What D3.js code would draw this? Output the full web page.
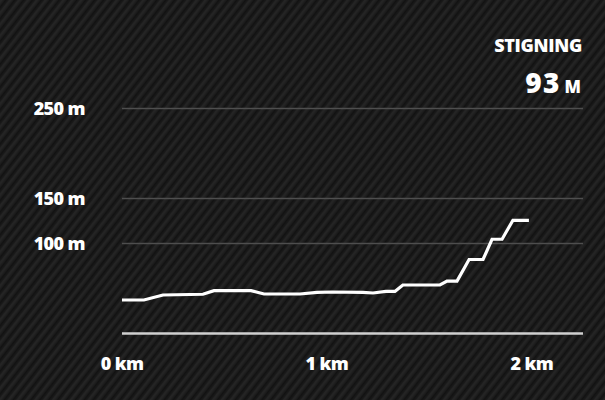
<!DOCTYPE html>
<html>
<head>
<meta charset="utf-8">
<script src="https://cdn.jsdelivr.net/npm/d3@7"></script>
<style>
  html, body { margin: 0; padding: 0; background: #1a1a1a; }
  svg { display: block; }
  text { font-family: "Open Sans", "DejaVu Sans", sans-serif; font-weight: 800; fill: #ffffff; }
</style>
</head>
<body>
<script>
// ---- data ----
const distanceKm = [0, 0.107, 0.200, 0.395, 0.449, 0.630, 0.693, 0.869, 0.952, 1.025, 1.176, 1.225, 1.288, 1.332, 1.371, 1.552, 1.586, 1.635, 1.694, 1.762, 1.806, 1.855, 1.908, 1.986];
const elevationM = [37.2, 37.2, 42.8, 43.6, 47.6, 47.6, 43.9, 43.9, 45.6, 46.1, 45.6, 45.0, 46.7, 46.7, 53.9, 53.9, 58.3, 58.3, 82.2, 82.2, 104.7, 104.7, 125.8, 125.8];
const yTicks = [100, 150, 250];
const yTickLabels = ["100 m", "150 m", "250 m"];
const xTicks = [0, 1, 2];
const xTickLabels = ["0 km", "1 km", "2 km"];
const titleText = "STIGNING";
const climbValue = "93";
const climbUnit = "M";

const W = 605, H = 400;
const svg = d3.select("body").append("svg").attr("width", W).attr("height", H);

// background texture
const defs = svg.append("defs");
const pat = defs.append("pattern")
  .attr("id", "stripes").attr("patternUnits", "userSpaceOnUse")
  .attr("width", 7).attr("height", 7)
  .attr("patternTransform", "rotate(38)");
pat.append("rect").attr("width", 7).attr("height", 7).attr("fill", "#1a1a1a");
pat.append("rect").attr("width", 2.5).attr("height", 7).attr("fill", "#242424");
pat.append("rect").attr("x", 4).attr("width", 1.5).attr("height", 7).attr("fill", "#121212");
svg.append("rect").attr("width", W).attr("height", H).attr("fill", "url(#stripes)");

const x = d3.scaleLinear().domain([0, 2.25]).range([122, 583]);
const y = d3.scaleLinear().domain([0, 250]).range([333.5, 108.5]);

// grid lines
svg.append("g").selectAll("line").data(yTicks).join("line")
  .attr("x1", x(0)).attr("x2", x(2.25))
  .attr("y1", d => y(d)).attr("y2", d => y(d))
  .attr("stroke", "#4e4e4e").attr("stroke-width", 1.5);

// baseline
svg.append("line")
  .attr("x1", x(0)).attr("x2", x(2.25))
  .attr("y1", y(0)).attr("y2", y(0))
  .attr("stroke", "#d0d0d0").attr("stroke-width", 2.5);

// y labels
svg.append("g").selectAll("text").data(yTicks).join("text")
  .attr("x", 85).attr("y", d => y(d) + 6.5)
  .attr("text-anchor", "end").attr("font-size", 18)
  .attr("letter-spacing", -0.6)
  .text((d, i) => yTickLabels[i]);

// x labels
svg.append("g").selectAll("text").data(xTicks).join("text")
  .attr("x", d => x(d)).attr("y", 370)
  .attr("text-anchor", "middle").attr("font-size", 18)
  .attr("letter-spacing", -0.6)
  .text((d, i) => xTickLabels[i]);

// elevation line
const pts = distanceKm.map((d, i) => [d, elevationM[i]]);
svg.append("path")
  .datum(pts)
  .attr("fill", "none").attr("stroke", "#ffffff").attr("stroke-width", 3.2)
  .attr("stroke-linejoin", "miter")
  .attr("d", d3.line().x(d => x(d[0])).y(d => y(d[1])));

// header
svg.append("text").attr("x", 582).attr("y", 52).attr("text-anchor", "end")
  .attr("font-size", 18).attr("letter-spacing", -0.3).text(titleText);
svg.append("text").attr("x", 581).attr("y", 93).attr("text-anchor", "end")
  .attr("font-size", 17).text(climbUnit);
svg.append("text").attr("x", 561).attr("y", 93).attr("text-anchor", "end")
  .attr("font-size", 28).attr("letter-spacing", 1.5).text(climbValue);
</script>
</body>
</html>
